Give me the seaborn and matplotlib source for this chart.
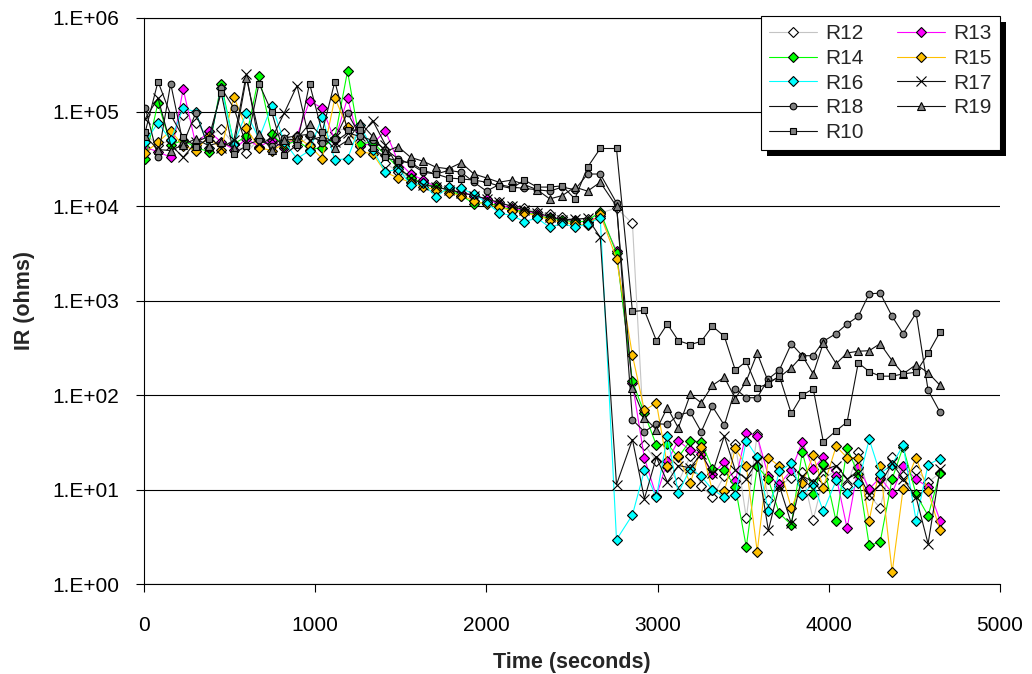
import matplotlib
matplotlib.use("Agg")
import numpy as np
import pandas as pd
import seaborn as sns
import matplotlib.pyplot as plt
from matplotlib.patches import Rectangle
from matplotlib.ticker import NullLocator
from matplotlib.transforms import IdentityTransform

# sample times (seconds)
time_s = [8, 82, 156, 229, 303, 377, 451, 525, 598, 672, 746, 820, 894, 967, 1041, 1115, 1189, 1263,
          1336, 1410, 1484, 1558, 1632, 1705, 1779, 1853, 1927, 2001, 2074, 2148, 2222, 2296, 2370,
          2443, 2517, 2591, 2665,
          2760,
          2853, 2923, 2993, 3057, 3121, 3191, 3255, 3320, 3390, 3454, 3518, 3582, 3647, 3711, 3781,
          3845, 3909, 3968, 4043, 4107, 4172, 4236, 4300, 4370, 4434, 4510, 4580, 4650]

# insulation resistance per sensor (ohms)
r12 = [5.8e4, 4.5e4, 5.0e4, 9.2e4, 7.7e4, 5.5e4, 6.6e4, 4.6e4, 3.7e4, 5.2e4, 5.0e4, 6.0e4, 4.4e4, 5.5e4, 4.8e4, 6.2e4, 6.8e4, 4.4e4,
       4.6e4, 2.9e4, 2.3e4, 2.0e4, 1.8e4, 1.7e4, 1.55e4, 1.4e4, 1.3e4, 1.2e4, 1.1e4, 1.0e4, 9.5e3, 8.8e3, 8.2e3, 7.8e3, 7.2e3, 7.4e3, 8.5e3,
       9.6e3,
       6.6e3, 30, 20, 17.4, 12, 22.5, 11, 8.3, 14, 30.7, 5.0, 39, 7.8, 11, 13.4, 15.4, 4.8, 13, 16, 11, 25, 8.7, 6.4, 22, 14, 16, 12, 15]
r13 = [4.2e4, 3.8e4, 3.3e4, 1.75e5, 4.5e4, 6.3e4, 4.8e4, 4.0e4, 5.2e4, 4.3e4, 5.0e4, 4.1e4, 5.6e4, 1.3e5, 1.1e5, 5.0e4, 1.4e5, 4.4e4,
       4.6e4, 6.3e4, 3.0e4, 2.2e4, 1.9e4, 1.6e4, 1.5e4, 1.4e4, 1.3e4, 1.2e4, 1.05e4, 9.5e3, 9.0e3, 8.2e3, 7.8e3, 7.2e3, 7.0e3, 6.8e3, 8.0e3,
       3.4e3,
       133, 21.6, 8.5, 20, 33, 26, 24, 14.5, 19.6, 12.3, 40, 37, 13.9, 11.4, 16, 32, 16.7, 22, 13.8, 3.9, 17.4, 10.2, 13.4, 9.2, 17.7, 12.9, 10.6, 4.7]
r14 = [3.2e4, 1.25e5, 4.5e4, 5.0e4, 4.2e4, 3.8e4, 2.0e5, 4.6e4, 5.5e4, 2.4e5, 5.8e4, 4.4e4, 5.0e4, 4.0e4, 4.2e4, 5.3e4, 2.7e5, 4.6e4,
       4.8e4, 3.5e4, 2.6e4, 2.0e4, 1.75e4, 1.6e4, 1.5e4, 1.3e4, 1.07e4, 1.1e4, 1.0e4, 9.2e3, 8.8e3, 8.0e3, 7.5e3, 7.2e3, 6.8e3, 7.0e3, 8.8e3,
       3.2e3,
       140, 64, 29.5, 30.6, 22, 33, 32, 16.7, 16, 10.6, 2.47, 17.7, 12.8, 5.6, 4.25, 25, 9.0, 18.9, 4.6, 27.8, 14.5, 2.57, 2.78, 13, 28.3, 8.9, 5.3, 15]
r15 = [3.7e4, 4.8e4, 6.3e4, 4.4e4, 3.9e4, 5.5e4, 4.0e4, 1.45e5, 6.7e4, 4.2e4, 3.9e4, 4.6e4, 5.4e4, 4.4e4, 3.2e4, 1.4e5, 6.9e4, 3.8e4,
       3.6e4, 2.3e4, 2.0e4, 1.8e4, 1.6e4, 1.5e4, 1.4e4, 1.3e4, 1.15e4, 1.05e4, 9.8e3, 9.0e3, 8.5e3, 8.0e3, 7.2e3, 6.8e3, 6.5e3, 6.4e3, 8.2e3,
       2.8e3,
       265, 69, 83, 18, 22.5, 11.7, 28, 9.8, 9.6, 27.3, 17.8, 2.2, 21.8, 17.7, 6.4, 11.8, 23, 10.5, 28.8, 21.8, 21.8, 4.7, 18, 1.33, 10.2, 21.8, 9.6, 3.7]
r16 = [4.8e4, 7.7e4, 5.0e4, 1.1e5, 1.0e5, 4.2e4, 1.8e5, 4.6e4, 9.8e4, 5.2e4, 1.17e5, 4.8e4, 3.2e4, 3.9e4, 8.9e4, 3.1e4, 3.2e4, 7.2e4,
       4.0e4, 2.3e4, 2.5e4, 1.7e4, 1.75e4, 1.25e4, 1.6e4, 1.55e4, 1.35e4, 1.1e4, 8.5e3, 8.0e3, 6.9e3, 7.5e3, 6.0e3, 6.6e3, 6.0e3, 6.5e3, 7.6e3,
       2.95,
       5.4, 16, 8.3, 37, 9.2, 16.7, 13.8, 10, 8.3, 8.8, 33, 22, 5.9, 15.6, 19, 8.7, 11.6, 5.9, 12.5, 9.1, 11.7, 34, 14.8, 18.4, 29.5, 4.7, 18.4, 21.3]
r17 = [8.5e4, 1.4e5, 4.5e4, 3.3e4, 4.8e4, 5.5e4, 4.2e4, 5.0e4, 2.5e5, 4.6e4, 5.2e4, 9.8e4, 1.9e5, 5.0e4, 5.5e4, 4.8e4, 6.0e4, 5.5e4,
       8.1e4, 4.5e4, 2.6e4, 2.0e4, 1.7e4, 1.6e4, 1.5e4, 1.4e4, 1.3e4, 1.2e4, 1.1e4, 1.0e4, 9.2e3, 8.5e3, 7.8e3, 7.2e3, 7.3e3, 7.5e3, 4.7e3,
       11.3,
       33.9, 8, 22, 12, 18, 17, 24, 15, 37, 16, 13, 20, 3.7, 11, 4.4, 14, 12, 16, 18, 13, 15, 8.7, 11.4, 19, 13, 8.3, 2.67, 16.7]
r18 = [1.1e5, 3.3e4, 2.0e5, 4.6e4, 9.8e4, 4.2e4, 1.8e5, 1.1e5, 4.5e4, 5.0e4, 4.4e4, 5.3e4, 5.6e4, 5.8e4, 4.7e4, 5.2e4, 9.8e4, 5.5e4,
       5.0e4, 4.0e4, 3.2e4, 2.8e4, 2.3e4, 2.2e4, 2.4e4, 2.3e4, 1.8e4, 1.45e4, 1.7e4, 1.6e4, 1.55e4, 1.5e4, 1.45e4, 1.6e4, 1.5e4, 2.2e4, 2.2e4,
       1.09e4,
       55, 41, 50, 49, 62, 66, 41, 76, 48, 117, 94, 94, 149, 184, 350, 262, 262, 372, 450, 568, 683, 1185, 1205, 683, 449, 741, 113, 66]
r19 = [5.5e4, 4.0e4, 3.9e4, 4.5e4, 5.2e4, 4.4e4, 4.8e4, 4.2e4, 2.3e5, 5.8e4, 4.0e4, 5.0e4, 5.2e4, 7.5e4, 5.5e4, 4.1e4, 5.0e4, 7.7e4,
       5.5e4, 3.8e4, 4.3e4, 3.3e4, 3.0e4, 2.6e4, 2.5e4, 2.9e4, 2.2e4, 2.0e4, 1.8e4, 1.9e4, 1.7e4, 1.5e4, 1.2e4, 1.3e4, 1.6e4, 1.45e4, 1.8e4,
       1.0e4,
       118, 58, 43, 74, 45, 102, 83, 127, 155, 92, 141, 278, 138, 155, 195, 262, 168, 357, 216, 280, 292, 296, 352, 232, 168, 211, 173, 127]
r10 = [6.2e4, 2.1e5, 9.3e4, 5.4e4, 4.3e4, 5.2e4, 1.6e5, 3.6e4, 4.4e4, 2.0e5, 1.0e5, 3.5e4, 4.5e4, 2.0e5, 6.1e4, 2.1e5, 6.4e4, 6.4e4,
       4.1e4, 3.3e4, 3.0e4, 2.9e4, 2.4e4, 2.2e4, 2.0e4, 1.95e4, 1.9e4, 1.8e4, 1.65e4, 1.55e4, 1.9e4, 1.6e4, 1.6e4, 1.65e4, 1.2e4, 2.6e4, 4.1e4,
       4.1e4,
       770, 790, 378, 568, 378, 343, 372, 537, 420, 184, 228, 120, 132, 160, 64, 100, 117, 32, 42, 52, 220, 178, 159, 159, 168, 175, 277, 468]

sensor_names = ["R12", "R13", "R14", "R15", "R16", "R17", "R18", "R19", "R10"]
legend_order = ["R12", "R14", "R16", "R18", "R10", "R13", "R15", "R17", "R19"]
ytick_vals = [1, 10, 100, 1000, 10000, 100000, 1000000]
ytick_labels = ["1.E+00", "1.E+01", "1.E+02", "1.E+03", "1.E+04", "1.E+05", "1.E+06"]
xtick_vals = [0, 1000, 2000, 3000, 4000, 5000]

values = [r12, r13, r14, r15, r16, r17, r18, r19, r10]
df = pd.DataFrame({
    "time": np.tile(time_s, len(sensor_names)),
    "ir": np.concatenate(values),
    "sensor": np.repeat(sensor_names, len(time_s)),
})

styles = {
    "R12": dict(color="#c4c4c4", marker="D", markerfacecolor="white", markersize=5.5),
    "R13": dict(color="#ff00ff", marker="D", markerfacecolor="#ff00ff", markersize=5.5),
    "R14": dict(color="#00ff00", marker="D", markerfacecolor="#00ff00", markersize=5.5),
    "R15": dict(color="#ffc000", marker="D", markerfacecolor="#ffc000", markersize=5.5),
    "R16": dict(color="#00ffff", marker="D", markerfacecolor="#00ffff", markersize=5.5),
    "R17": dict(color="#111111", marker="x", markerfacecolor="none", markersize=7.5),
    "R18": dict(color="#111111", marker="o", markerfacecolor="#808080", markersize=4.8),
    "R19": dict(color="#111111", marker="^", markerfacecolor="#808080", markersize=5.3),
    "R10": dict(color="#111111", marker="s", markerfacecolor="#808080", markersize=4.8),
}

sns.set_theme(style="white")
plt.rcParams["font.family"] = ["Liberation Sans", "DejaVu Sans"]

fig = plt.figure(figsize=(10.32, 6.74), dpi=100)
ax = fig.add_axes([0.1395, 0.1335, 0.8295, 0.8405])

for name in sensor_names:
    sns.lineplot(data=df[df["sensor"] == name], x="time", y="ir", ax=ax,
                 label=name, estimator=None, sort=False,
                 markeredgecolor="black", markeredgewidth=0.8, linewidth=0.8,
                 **styles[name])

ax.set_yscale("log")
ax.set_ylim(1, 1e6)
ax.set_xlim(0, 5000)
ax.set_yticks(ytick_vals, ytick_labels)
ax.set_xticks(xtick_vals)
ax.yaxis.set_minor_locator(NullLocator())

ax.grid(False)
ax.yaxis.grid(True, color="black", linewidth=0.8)
ax.set_axisbelow(True)
for side in ["left", "bottom", "top"]:
    ax.spines[side].set_color("black")
    ax.spines[side].set_linewidth(0.8)
ax.spines["right"].set_visible(False)

ax.tick_params(axis="both", which="major", direction="out", length=6, width=0.8,
               colors="black", labelsize=15, bottom=True, left=True)
ax.tick_params(axis="x", pad=17)
ax.tick_params(axis="y", pad=12)

ax.set_xlabel("Time (seconds)", fontsize=15.5, fontweight="bold", labelpad=12)
ax.set_ylabel("IR (ohms)", fontsize=15.5, fontweight="bold", labelpad=12)

handles, labels = ax.get_legend_handles_labels()
lookup = dict(zip(labels, handles))
leg = ax.legend([lookup[k] for k in legend_order], legend_order, ncol=2,
                loc="upper right", bbox_to_anchor=(1000 / 1032, 1 - 16 / 674),
                bbox_transform=fig.transFigure, borderaxespad=0, fontsize=15,
                frameon=True, fancybox=False, edgecolor="black", framealpha=1,
                handlelength=2.3, handletextpad=0.4, columnspacing=1.6,
                labelspacing=0.27, borderpad=0.4)
leg.get_frame().set_linewidth(0.8)
leg.set_zorder(10)

# black drop shadow behind the legend box
fig.canvas.draw()
bb = leg.get_window_extent()
shadow = Rectangle((bb.x0 + 6, bb.y0 - 6), bb.width, bb.height,
                   transform=IdentityTransform(), facecolor="black",
                   edgecolor="none", zorder=9.5, clip_on=False)
ax.add_artist(shadow)

fig.savefig("out.png", dpi=100)
